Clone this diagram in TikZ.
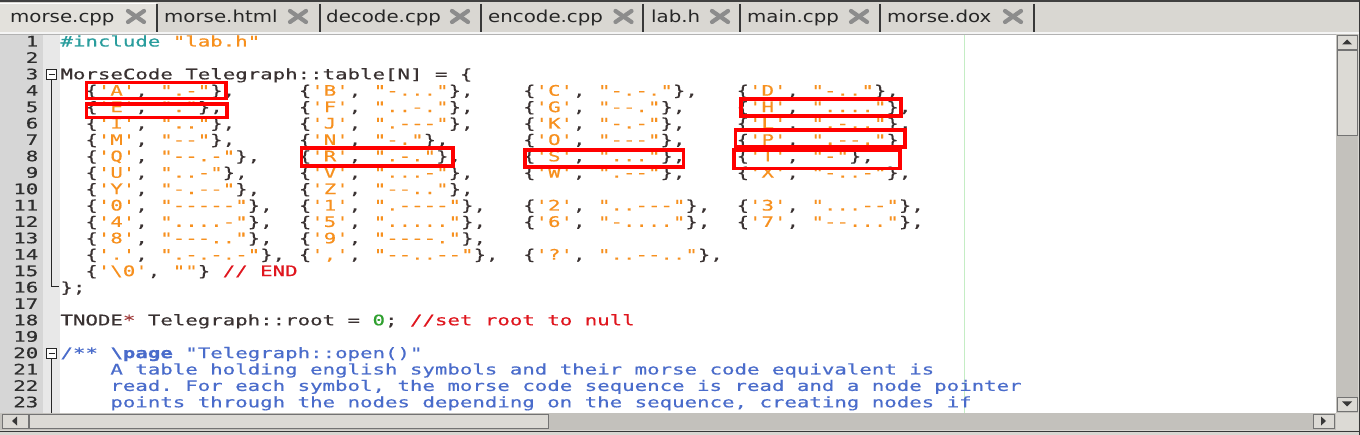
\documentclass[tikz,border=0pt]{standalone}
\usepackage{fontspec}
\newfontfamily\codefont[FakeStretch=1.43,FakeBold=0.5,Ligatures=TeXOff]{DejaVu Sans Mono}
\newfontfamily\tabfont[FakeStretch=1.2,Ligatures=TeXOff]{DejaVu Sans}
\definecolor{txt}{HTML}{3A3232}
\definecolor{str}{HTML}{F7901E}
\definecolor{pre}{HTML}{2A9D9D}
\definecolor{num}{HTML}{2FA02F}
\definecolor{cmt}{HTML}{E0161E}
\definecolor{doc}{HTML}{4A6CCB}
\definecolor{star}{HTML}{A03C3C}
\definecolor{barbg}{HTML}{D9D7D2}
\definecolor{acttab}{HTML}{E3E1DC}
\definecolor{track}{HTML}{C3C1BC}
\definecolor{btn}{HTML}{DCDAD5}
\definecolor{gutA}{HTML}{D6D6D6}
\definecolor{gutB}{HTML}{E8E8E8}
\definecolor{marg}{HTML}{C4EDC4}
\newcommand\Sx[1]{\textcolor{str}{#1}}
\newcommand\Cx[1]{\textcolor{cmt}{#1}}
\newcommand\mc[2]{\{\Sx{'#1'}, \Sx{"#2"}\},}
\newcommand\cell[4]{\node[code] (r#1c#3) at ({#2},{46.5+(#1-1)*16.4}) {#4};}
\newcommand\tabx[4]{%
  \node[tabtext] (tab#1) at (#2,22.7) {#3};
  \coordinate (xc#1) at (#4,16.5);
  \draw[xicon] ([shift={(-8,-5.5)}]xc#1) -- ([shift={(8,5.5)}]xc#1);
  \draw[xicon] ([shift={(-8,5.5)}]xc#1) -- ([shift={(8,-5.5)}]xc#1);}
\begin{document}
\begin{tikzpicture}[x=1pt,y=-1pt,
  code/.style={anchor=base west,inner sep=0pt,outer sep=0pt,text=txt,
    font=\codefont\fontsize{14.5}{16.4}\selectfont\frenchspacing},
  lnum/.style={anchor=base east,inner sep=0pt,text=black!82,
    font=\codefont\fontsize{14.5}{16.4}\selectfont},
  tabtext/.style={anchor=base west,inner sep=0pt,text=black!85,
    font=\tabfont\fontsize{16.5}{18}\selectfont},
  xicon/.style={line width=4.2pt,draw=black!45,line cap=round},
  redbox/.style={draw=red,line width=3.6pt},
  fold/.style={draw=black!85,line width=1.1pt},
  sep/.style={draw=black!78,line width=2pt},
  button/.style={fill=btn,draw=black!55,line width=0.8pt},
  arrowtip/.style={fill=black!78,draw=none}]
\useasboundingbox (0,0) rectangle (1360,435);
% ---------- backgrounds ----------
\fill[barbg] (0,0) rectangle (1360,435);
\fill[white] (0,34) rectangle (1336,413);
\fill[black!75] (0,0) rectangle (1360,2);
\fill[acttab] (0,3) rectangle (157,33);
\draw[white,line width=1.2pt] (0,3.6) -- (156,3.6);
\draw[white!96!black,line width=1.2pt] (0,33) -- (1360,33);
\draw[black!30,line width=0.8pt] (0,34.2) -- (1336,34.2);
% gutter
\fill[gutA] (0,34.6) rectangle (42.5,413);
\fill[gutB] (42.5,34.6) rectangle (60,413);
% right margin line
\draw[marg,line width=1.4pt] (964.5,34.6) -- (964.5,413);
% ---------- tabs ----------
\foreach \sx in {157,320,481,643,740,880,1034}
  \draw[sep] (\sx,4) -- (\sx,32);
\tabx{1}{10}{morse.cpp}{136}
\tabx{2}{164}{morse.html}{298}
\tabx{3}{326}{decode.cpp}{460}
\tabx{4}{488}{encode.cpp}{623.5}
\tabx{5}{651}{lab.h}{720}
\tabx{6}{747}{main.cpp}{859}
\tabx{7}{887}{morse.dox}{1013}
% ---------- line numbers ----------
\foreach \n in {1,...,23}
  \node[lnum] (n\n) at (38.5,{46.5+(\n-1)*16.4}) {\n};
% ---------- code ----------
\node[code] (l1) at (60.5,46.5) {\textcolor{pre}{\#include} \Sx{"lab.h"}};
\node[code] (l3) at (60.5,{46.5+2*16.4}) {MorseCode Telegraph::table[N] = \{};
\def\cA{85.4}\def\cB{298.8}\def\cC{523.1}\def\cD{736.6}
\cell{4}{\cA}{1}{\mc{A}{.-}}   \cell{4}{\cB}{2}{\mc{B}{-...}} \cell{4}{\cC}{3}{\mc{C}{-.-.}} \cell{4}{\cD}{4}{\mc{D}{-..}}
\cell{5}{\cA}{1}{\mc{E}{.}}    \cell{5}{\cB}{2}{\mc{F}{..-.}} \cell{5}{\cC}{3}{\mc{G}{--.}}  \cell{5}{\cD}{4}{\mc{H}{....}}
\cell{6}{\cA}{1}{\mc{I}{..}}   \cell{6}{\cB}{2}{\mc{J}{.---}} \cell{6}{\cC}{3}{\mc{K}{-.-}}  \cell{6}{\cD}{4}{\mc{L}{.-..}}
\cell{7}{\cA}{1}{\mc{M}{--}}   \cell{7}{\cB}{2}{\mc{N}{-.}}   \cell{7}{\cC}{3}{\mc{O}{---}}  \cell{7}{\cD}{4}{\mc{P}{.--.}}
\cell{8}{\cA}{1}{\mc{Q}{--.-}} \cell{8}{\cB}{2}{\mc{R}{.-.}}  \cell{8}{\cC}{3}{\mc{S}{...}}  \cell{8}{\cD}{4}{\mc{T}{-}}
\cell{9}{\cA}{1}{\mc{U}{..-}}  \cell{9}{\cB}{2}{\mc{V}{...-}} \cell{9}{\cC}{3}{\mc{W}{.--}}  \cell{9}{\cD}{4}{\mc{X}{-..-}}
\cell{10}{\cA}{1}{\mc{Y}{-.--}} \cell{10}{\cB}{2}{\mc{Z}{--..}}
\cell{11}{\cA}{1}{\mc{0}{-----}} \cell{11}{\cB}{2}{\mc{1}{.----}} \cell{11}{\cC}{3}{\mc{2}{..---}} \cell{11}{\cD}{4}{\mc{3}{...--}}
\cell{12}{\cA}{1}{\mc{4}{....-}} \cell{12}{\cB}{2}{\mc{5}{.....}} \cell{12}{\cC}{3}{\mc{6}{-....}} \cell{12}{\cD}{4}{\mc{7}{--...}}
\cell{13}{\cA}{1}{\mc{8}{---..}} \cell{13}{\cB}{2}{\mc{9}{----.}}
\cell{14}{\cA}{1}{\mc{.}{.-.-.-}} \cell{14}{\cB}{2}{\mc{,}{--..--}} \cell{14}{\cC}{3}{\mc{?}{..--..}}
\cell{15}{\cA}{1}{\{\Sx{'\textbackslash 0'}, \Sx{""}\} \Cx{// END}}
\node[code] (l16) at (60.5,{46.5+15*16.4}) {\};};
\node[code] (l18) at (60.5,{46.5+17*16.4}) {TNODE\textcolor{star}{*} Telegraph::root = \textcolor{num}{0}; \Cx{//set root to null}};
\node[code,text=doc] (l20) at (60.5,{46.5+19*16.4}) {/** \textbf{\textbackslash page} "Telegraph::open()"};
\node[code,text=doc] (l21) at (110.4,{46.5+20*16.4}) {A table holding english symbols and their morse code equivalent is};
\node[code,text=doc] (l22) at (110.4,{46.5+21*16.4}) {read. For each symbol, the morse code sequence is read and a node pointer};
\node[code,text=doc] (l23) at (110.4,{46.5+22*16.4}) {points through the nodes depending on the sequence, creating nodes if};
% ---------- fold markers ----------
\draw[fold] (51.5,79.8) -- (51.5,286.7) -- (59,286.7);
\draw[fold,fill=white] (46.5,69.8) rectangle (56.5,79.8);
\draw[fold] (48.5,74.8) -- (54.5,74.8);
\draw[fold] (51.5,358.6) -- (51.5,413);
\draw[fold,fill=white] (46.5,348.6) rectangle (56.5,358.6);
\draw[fold] (48.5,353.6) -- (54.5,353.6);
% ---------- red highlight boxes ----------
\draw[redbox] (86.5,82.5) rectangle (226.2,98.5);
\draw[redbox] (86.5,103.8) rectangle (227.2,117.5);
\draw[redbox] (301.5,148.2) rectangle (452.8,165.8);
\draw[redbox] (524.8,149.8) rectangle (683.5,166.8);
\draw[redbox] (740.8,98.8) rectangle (901.2,115.8);
\draw[redbox] (735.5,129.8) rectangle (905.2,146.8);
\draw[redbox] (733.8,149.8) rectangle (900.2,168.5);
% ---------- scrollbars ----------
\fill[track] (1336,34) rectangle (1358,413);
\fill[track] (0,413) rectangle (1336,430);
\fill[btn] (1336,413) rectangle (1358,430);
\draw[button] (1337,35) rectangle (1357,49);
\draw[button] (1337,50) rectangle (1357,135);
\draw[button] (1337,397) rectangle (1357,411);
\draw[button] (2,414) rectangle (28,428.5);
\draw[button] (29,414) rectangle (548,428.5);
\draw[button] (1313,414) rectangle (1334,428.5);
\fill[arrowtip] (1342,44.5) -- (1352,44.5) -- (1347,39.5) -- cycle;
\fill[arrowtip] (1342,401.5) -- (1352,401.5) -- (1347,406.5) -- cycle;
\fill[arrowtip] (12,421) -- (17,416.5) -- (17,425.5) -- cycle;
\fill[arrowtip] (1326,421) -- (1321,416.5) -- (1321,425.5) -- cycle;
\fill[black!78] (0,430.5) rectangle (1360,432);
\fill[black!78] (1358.5,0) rectangle (1360,435);
\end{tikzpicture}
\end{document}
